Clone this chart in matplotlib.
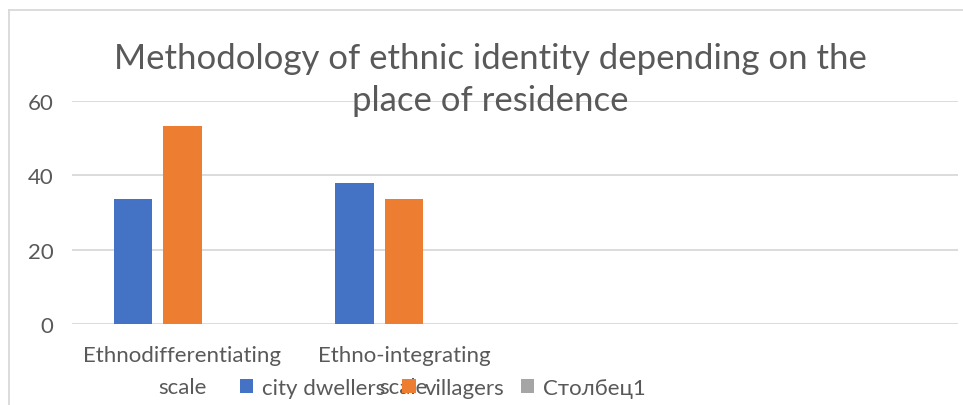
import matplotlib
matplotlib.use("Agg")
import matplotlib.pyplot as plt
from matplotlib.lines import Line2D
import numpy as np

categories = ["Ethnodifferentiating\nscale", "Ethno-integrating\nscale", "", ""]
series_names = ["city dwellers", "villagers", "Столбец1"]
city_dwellers = [33.6, 37.8, 0, 0]
villagers = [53.2, 33.7, 0, 0]
stolbets1 = [0, 0, 0, 0]
yticks = [0, 20, 40, 60]
title = "Methodology of ethnic identity depending on the\nplace of residence"

colors = ["#4472C4", "#ED7D31", "#A5A5A5"]
text_color = "#595959"
grid_color = "#D9D9D9"

plt.rcParams['font.family'] = ['Lato', 'DejaVu Sans']

W, H = 963, 406
fig = plt.figure(figsize=(W / 100, H / 100), dpi=100)
ax = fig.add_axes([71.7 / W, (H - 325) / H, (957.7 - 71.7) / W, (325 - 101.7) / H])

x = np.arange(len(categories))
width = 0.174
offset = 0.2235
for i, (vals, name) in enumerate(zip([city_dwellers, villagers, stolbets1], series_names)):
    ax.bar(x + (i - 1) * offset, vals, width=width, color=colors[i], label=name, zorder=3)

ax.set_xlim(-0.5, len(categories) - 0.5)
ax.set_ylim(0, 60)
ax.set_yticks(yticks)
ax.set_yticklabels([str(v) for v in yticks], fontsize=16, color=text_color)
ax.set_xticks(x)
ax.set_xticklabels(categories, fontsize=16, color=text_color, linespacing=1.75)
ax.tick_params(axis='both', length=0)
ax.tick_params(axis='y', pad=13)
ax.tick_params(axis='x', pad=15)
for s in ax.spines.values():
    s.set_visible(False)
ax.grid(axis='y', color=grid_color, linewidth=1.3, zorder=0)
ax.set_axisbelow(True)

fig.text(490 / W, 1 - 80 / H, title, ha='center', va='center', fontsize=25,
         color=text_color, linespacing=1.38)

leg = fig.legend(loc='center', bbox_to_anchor=(443 / W, 1 - 389 / H), ncol=3, frameon=False,
                 fontsize=16, handlelength=0.6, handleheight=0.6, handletextpad=0.4,
                 columnspacing=0.75, borderpad=0.0)
for t in leg.get_texts():
    t.set_color(text_color)

# chart border
fig.add_artist(Line2D([8.5 / W, 1], [1 - 11 / H, 1 - 11 / H], color=grid_color, linewidth=1.3))
fig.add_artist(Line2D([9 / W, 9 / W], [0, 1 - 11 / H], color=grid_color, linewidth=1.3))

fig.savefig("out.png", dpi=100)
